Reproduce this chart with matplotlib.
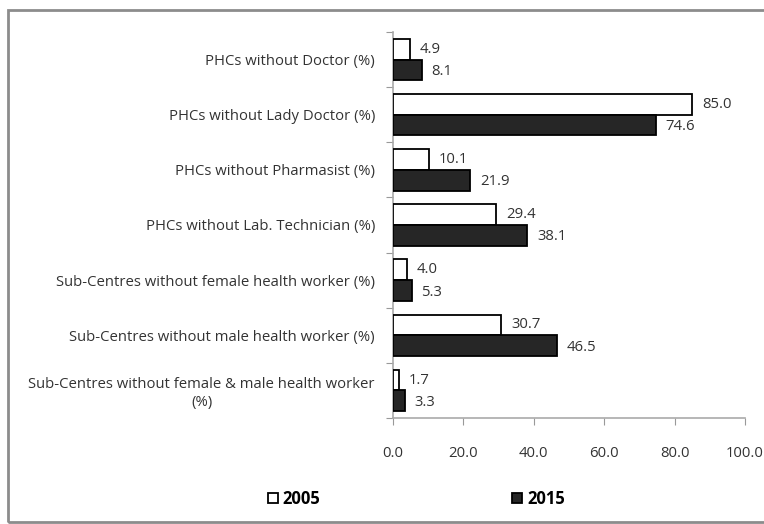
import numpy as np
import matplotlib
matplotlib.use("Agg")
import matplotlib.pyplot as plt
import matplotlib.patches as patches
from matplotlib.ticker import FixedLocator

plt.rcParams['font.family'] = ['Open Sans', 'DejaVu Sans']

# --- data ---
categories = [
    "PHCs without Doctor (%)",
    "PHCs without Lady Doctor (%)",
    "PHCs without Pharmasist (%)",
    "PHCs without Lab. Technician (%)",
    "Sub-Centres without female health worker (%)",
    "Sub-Centres without male health worker (%)",
    "Sub-Centres without female & male health worker\n(%)",
]
values_2005 = [4.9, 85.0, 10.1, 29.4, 4.0, 30.7, 1.7]
values_2015 = [8.1, 74.6, 21.9, 38.1, 5.3, 46.5, 3.3]
x_ticks = [0, 20, 40, 60, 80, 100]


def make_chart():
    fig = plt.figure(figsize=(7.64, 5.24), dpi=100)
    ax = fig.add_axes([0.5144, 0.2023, 0.4606, 0.7367])

    y = np.arange(len(categories))
    h = 0.375
    fs = 10.7
    txt = '#333333'
    ax.barh(y - h / 2, values_2005, height=h, color='white',
            edgecolor='black', linewidth=1.3, label='2005', zorder=3)
    ax.barh(y + h / 2, values_2015, height=h, color='#262626',
            edgecolor='black', linewidth=1.3, label='2015', zorder=3)

    # value labels
    for i, (a, b) in enumerate(zip(values_2005, values_2015)):
        ax.text(a + 2.8, i - h / 2, f"{a:.1f}", va='center', ha='left',
                fontsize=fs, color=txt)
        ax.text(b + 2.8, i + h / 2 + 0.03, f"{b:.1f}", va='center', ha='left',
                fontsize=fs, color=txt)

    ax.set_xlim(0, 100)
    ax.set_ylim(len(categories) - 0.5, -0.5)

    # boundary ticks on the y axis, labels at category centres
    ax.yaxis.set_major_locator(FixedLocator(np.arange(-0.5, len(categories), 1.0)))
    ax.yaxis.set_major_formatter(plt.NullFormatter())
    ax.yaxis.set_minor_locator(FixedLocator(y))
    ax.set_yticklabels(categories, minor=True, fontsize=fs, color=txt,
                       multialignment='center')
    ax.tick_params(axis='y', which='minor', length=0, pad=13)
    ax.tick_params(axis='y', which='major', length=5, color='#999999',
                   direction='out')

    ax.set_xticks(x_ticks)
    ax.set_xticklabels([f"{t:.1f}" for t in x_ticks], fontsize=fs, color=txt)
    ax.tick_params(axis='x', length=5, color='#999999', direction='out', pad=15)

    for s in ['top', 'right']:
        ax.spines[s].set_visible(False)
    for s in ['left', 'bottom']:
        ax.spines[s].set_color('#aaaaaa')
        ax.spines[s].set_linewidth(1.2)

    fig.legend(loc='center', bbox_to_anchor=(0.545, 0.048), ncol=2,
               frameon=False, handlelength=0.6, handleheight=0.6,
               handletextpad=0.3, columnspacing=11.5,
               prop={'size': 12, 'weight': 'bold'})

    # outer frame
    fig.patches.append(patches.Rectangle((0.011, 0.004), 1.2, 0.976,
                                         transform=fig.transFigure,
                                         fill=False, edgecolor='#8c8c8c',
                                         linewidth=2))

    fig.savefig('out.png', dpi=100, facecolor='white')
    plt.close(fig)


if __name__ == "__main__":
    make_chart()
